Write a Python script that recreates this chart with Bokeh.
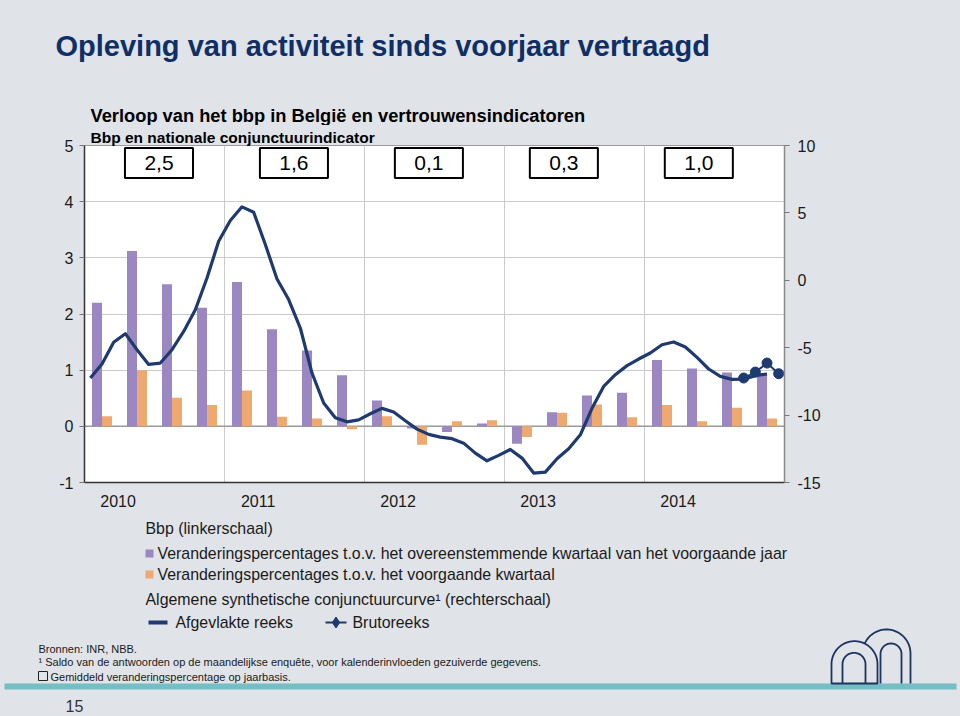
import numpy as np
from bokeh.plotting import figure
from bokeh.models import Range1d, LinearAxis, FixedTicker, Span, NumeralTickFormatter
from bokeh.layouts import column
from bokeh.embed import file_html
from bokeh.resources import INLINE
from bokeh.core.properties import value

# ---------------- data ----------------
years = [2010, 2011, 2012, 2013, 2014]
annual_avg = ["2,5", "1,6", "0,1", "0,3", "1,0"]
quarters = [f"{y}Q{q}" for y in years for q in range(1, 5)]
# Bbp: y-o-y growth (purple) and q-o-q growth (orange), %
gdp_yoy = [2.20, 3.12, 2.53, 2.11, 2.57, 1.73, 1.35, 0.91, 0.46, -0.04,
           -0.10, 0.05, -0.31, 0.25, 0.55, 0.60, 1.18, 1.03, 0.96, 0.95]
gdp_qoq = [0.18, 1.00, 0.51, 0.38, 0.64, 0.17, 0.14, -0.05, 0.18, -0.33,
           0.09, 0.11, -0.19, 0.24, 0.39, 0.16, 0.38, 0.09, 0.33, 0.14]
# Synthetic business curve, smoothed series, monthly from 2010-01
smooth_start_year = 2010
smoothed = [-7.25, -6.21, -4.60, -3.96, -5.15, -6.24, -6.14, -5.15, -3.79, -2.18,
            0.17, 2.90, 4.43, 5.45, 5.05, 2.65, 0.10, -1.43, -3.54, -6.88,
            -9.10, -10.20, -10.50, -10.35, -9.90, -9.50, -9.77, -10.42, -11.04, -11.43,
            -11.63, -11.75, -12.08, -12.82, -13.39, -12.99, -12.55, -13.19, -14.30, -14.23,
            -13.24, -12.50, -11.46, -9.50, -7.87, -7.00, -6.33, -5.84, -5.39, -4.78,
            -4.58, -4.95, -5.72, -6.58, -7.13, -7.35, -7.33, -7.08, -6.95]
smoothed_months = [f"{smooth_start_year + i // 12}-{i % 12 + 1:02d}" for i in range(len(smoothed))]
# raw series (Brutoreeks)
raw_months = ["2014-09", "2014-10", "2014-11", "2014-12"]
raw_values = [-7.25, -6.81, -6.14, -6.93]

# ---------------- helpers ----------------
def qpos(lbl):
    y, q = lbl.split("Q")
    return int(y) + (int(q) - 0.5) / 4

def mpos(lbl):
    y, m = lbl.split("-")
    return int(y) + (int(m) - 0.5) / 12

# ---------------- style ----------------
BG = "#e0e3e8"
NAVY = "#1f3a6e"
PURPLE = "#9b87c1"
ORANGE = "#eda96f"
GRID = "#cbcbcb"
FONT = "Liberation Sans"
TXT = "#1a1a1a"
W = 960

def pixel_fig(height):
    fig = figure(width=W, height=height, x_range=Range1d(0, W), y_range=Range1d(height, 0),
                 output_backend="svg", toolbar_location=None, min_border=0,
                 x_axis_location=None, y_axis_location=None,
                 border_fill_color=BG, background_fill_color=BG, outline_line_color=None)
    fig.grid.visible = False
    fig.frame_align = False
    return fig

def ftxt(fig, text, x, y, size, style="normal", color=TXT, font=FONT):
    fig.text(x=[x], y=[y], text=[text], text_font=value(font), text_font_size=size,
             text_font_style=style, text_color=color, text_baseline="middle", text_align="left")

# ---------------- header ----------------
H_TOP = 125
h = pixel_fig(H_TOP)
ftxt(h, "Opleving van activiteit sinds voorjaar vertraagd", 55, 45, "29px", "bold", "#0f2f66")
ftxt(h, "Verloop van het bbp in België en vertrouwensindicatoren", 90, 115, "18.3px", "bold", "black")

# ---------------- main chart ----------------
FR_L, FR_R, FR_T, FR_B = 84, 784, 145, 482
MAIN_BOTTOM = 518
p = figure(width=W, height=MAIN_BOTTOM - H_TOP, x_range=Range1d(2010, 2015), y_range=Range1d(-1, 5),
           output_backend="svg", toolbar_location=None,
           min_border_left=FR_L, min_border_right=W - FR_R,
           min_border_top=FR_T - H_TOP, min_border_bottom=MAIN_BOTTOM - FR_B,
           border_fill_color=BG, background_fill_color="white",
           outline_line_color="#9a9a9a", outline_line_width=1,
           title="Bbp en nationale conjunctuurindicator")
p.frame_align = False
p.title.align = "left"
p.title.offset = 6
p.title.standoff = 0
p.title.text_font = FONT
p.title.text_font_style = "bold"
p.title.text_font_size = "15.5px"
p.title.text_color = "black"

ya = p.yaxis[0]
ya.ticker = FixedTicker(ticks=[-1, 0, 1, 2, 3, 4, 5])
ya.major_label_overrides = {-1: "-1"}
ya.axis_line_color = "#333333"
ya.axis_line_width = 1.5
ya.major_tick_out = 5
ya.major_tick_in = 0
ya.major_tick_line_color = "#777777"
ya.minor_tick_line_color = None
ya.major_label_standoff = 6
ya.major_label_text_font = FONT
ya.major_label_text_font_size = "16px"
ya.major_label_text_color = TXT

p.extra_y_ranges = {"right": Range1d(-15, 10)}
ra = LinearAxis(y_range_name="right", ticker=FixedTicker(ticks=[-15, -10, -5, 0, 5, 10]))
ra.major_label_overrides = {-15: "-15", -10: "-10", -5: "-5"}
ra.axis_line_color = "#8a8a8a"
ra.axis_line_width = 1.5
ra.major_tick_out = 5
ra.major_tick_in = 0
ra.major_tick_line_color = "#777777"
ra.minor_tick_line_color = None
ra.major_label_standoff = 8
ra.major_label_text_font = FONT
ra.major_label_text_font_size = "16px"
ra.major_label_text_color = TXT
p.add_layout(ra, "right")

xa = p.xaxis[0]
xa.ticker = FixedTicker(ticks=[y + 0.24 for y in years])
xa.formatter = NumeralTickFormatter(format="0")
xa.axis_line_color = "#333333"
xa.axis_line_width = 1.5
xa.major_tick_out = 0
xa.major_tick_in = 0
xa.minor_tick_line_color = None
xa.major_label_standoff = 12
xa.major_label_text_font = FONT
xa.major_label_text_font_size = "16px"
xa.major_label_text_color = TXT

p.xgrid.ticker = FixedTicker(ticks=years[1:])
p.xgrid.grid_line_color = GRID
p.ygrid.grid_line_color = GRID

p.add_layout(Span(location=0, dimension="width", line_color="#9a9a9a", line_width=1.5, level="underlay"))

qx = np.array([qpos(q) for q in quarters])
bw = 0.0714
p.vbar(x=qx - bw / 2, top=gdp_yoy, width=bw, fill_color=PURPLE, line_color=None)
p.vbar(x=qx + bw / 2, top=gdp_qoq, width=bw, fill_color=ORANGE, line_color=None)

mx = [mpos(m) for m in smoothed_months]
p.line(mx, smoothed, y_range_name="right", line_color=NAVY, line_width=3.2, line_join="round")
rx = [mpos(m) for m in raw_months]
p.line(rx, raw_values, y_range_name="right", line_color=NAVY, line_width=2)
p.scatter(rx, raw_values, y_range_name="right", size=10, fill_color=NAVY, line_color=NAVY)

box_x = [y + 0.532 - 0.036 * i for i, y in enumerate(years)]
p.rect(x=box_x, y=[4.69] * 5, width=0.486, height=0.534, fill_color="white",
       line_color="black", line_width=2)
p.text(x=box_x, y=[4.69] * 5, text=annual_avg, text_align="center", text_baseline="middle",
       text_font=value(FONT), text_font_size="21px", text_color="black")

# ---------------- footer (legend + notes) ----------------
F_H = 716 - MAIN_BOTTOM
f = pixel_fig(F_H)
o = MAIN_BOTTOM
LEG = "15.9px"
ftxt(f, "Bbp (linkerschaal)", 145, 528 - o, LEG)
f.rect(x=[149], y=[553 - o], width=8, height=8, fill_color=PURPLE, line_color=None)
ftxt(f, "Veranderingspercentages t.o.v. het overeenstemmende kwartaal van het voorgaande jaar", 157, 553 - o, LEG)
f.rect(x=[149], y=[574 - o], width=8, height=8, fill_color=ORANGE, line_color=None)
ftxt(f, "Veranderingspercentages t.o.v. het voorgaande kwartaal", 157, 574 - o, LEG)
ftxt(f, "Algemene synthetische conjunctuurcurve¹ (rechterschaal)", 145, 599 - o, LEG)
f.segment(x0=[148], y0=[622 - o], x1=[167], y1=[622 - o], line_color=NAVY, line_width=4)
ftxt(f, "Afgevlakte reeks", 175, 622 - o, LEG)
f.segment(x0=[325], y0=[622 - o], x1=[346], y1=[622 - o], line_color=NAVY, line_width=2)
f.scatter(x=[335.5], y=[622 - o], marker="diamond", size=11, fill_color=NAVY, line_color=NAVY)
ftxt(f, "Brutoreeks", 352, 622 - o, LEG)

NOTE = "11px"
ftxt(f, "Bronnen: INR, NBB.", 38, 648 - o, NOTE)
ftxt(f, "¹ Saldo van de antwoorden op de maandelijkse enquête, voor kalenderinvloeden gezuiverde gegevens.", 38, 661 - o, NOTE)
f.rect(x=[42.5], y=[675.5 - o], width=9, height=9, fill_color=None, line_color="#222222", line_width=1)
ftxt(f, "Gemiddeld veranderingspercentage op jaarbasis.", 50, 676 - o, NOTE)

f.quad(left=[4], right=[956], top=[683 - o], bottom=[689 - o], fill_color="#74bec4", line_color=None)
ftxt(f, "15", 65, 705 - o, "16px", "normal", "#333333")

# logo (arches)
def arch(cx, cy, r, base):
    t = np.linspace(0, np.pi, 40)
    xs = [cx + r] + list(cx + r * np.cos(t)) + [cx - r]
    ys = [base] + list(cy - r * np.sin(t)) + [base]
    return xs, ys

LOGO = "#1d3461"
base = 683 - o
xs, ys = arch(886, 653 - o, 24, base)
f.line(xs, ys, line_color=LOGO, line_width=1.8)
xs, ys = arch(890.5, 653.5 - o, 10.5, base)
f.line(xs, ys, line_color=LOGO, line_width=1.8)
xs, ys = arch(854, 663.7 - o, 23, base)
f.patch(xs, ys, fill_color=BG, line_color=LOGO, line_width=1.8)
xs, ys = arch(853.5, 663.8 - o, 11.5, base)
f.line(xs, ys, line_color=LOGO, line_width=1.8)

layout = column(h, p, f, spacing=0)
layout.styles = {"background-color": BG}
open("out.html", "w").write(file_html(layout, INLINE))
